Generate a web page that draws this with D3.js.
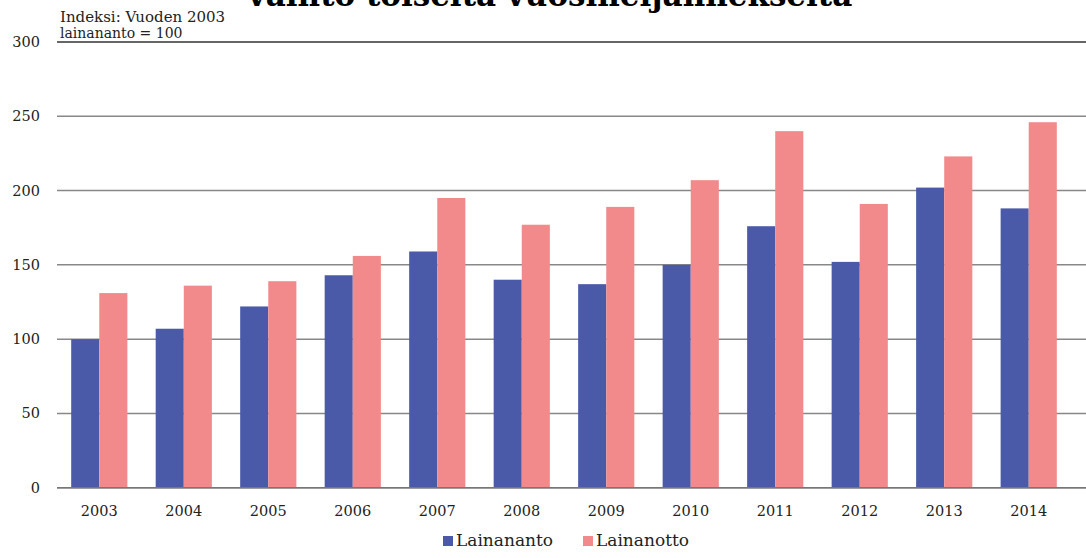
<!DOCTYPE html>
<html>
<head>
<meta charset="utf-8">
<script src="https://cdn.jsdelivr.net/npm/d3@7"></script>
<style>
  body { margin: 0; background: #fff; }
  text { font-family: "DejaVu Serif", "Liberation Serif", serif; }
</style>
</head>
<body>
<div id="chart"></div>
<script>
// Data
const years = ['2003', '2004', '2005', '2006', '2007', '2008', '2009', '2010', '2011', '2012', '2013', '2014'];
const lainananto = [100, 107, 122, 143, 159, 140, 137, 150, 176, 152, 202, 188];
const lainanotto = [131, 136, 139, 156, 195, 177, 189, 207, 240, 191, 223, 246];
const seriesNames = ['Lainananto', 'Lainanotto'];
const yTicks = [0, 50, 100, 150, 200, 250, 300];

const colors = { Lainananto: '#4a5aa9', Lainanotto: '#f28a8b' };

const W = 1086, H = 558;
const margin = { top: 42, right: 15, bottom: 70, left: 57 };
const width = W - margin.left - margin.right;
const height = 487.7 - margin.top;

const svg = d3.select('#chart')
    .append('svg')
    .attr('width', W)
    .attr('height', H);

// title, cut off at the top like in the source
svg.append('text')
    .attr('x', 550)
    .attr('y', 6)
    .attr('text-anchor', 'middle')
    .style('font-size', '31px')
    .style('font-weight', 'bold')
    .text('vaihto toiselta vuosineljännekseltä');

const g = svg.append('g')
    .attr('transform', `translate(${margin.left},${margin.top})`);

// scales
const x = d3.scaleBand()
    .domain(years)
    .range([0, width])
    .paddingInner(0.335)
    .paddingOuter(0.168);

const x1 = d3.scaleBand()
    .domain(seriesNames)
    .range([0, x.bandwidth()]);

const y = d3.scaleLinear()
    .domain([0, 300])
    .range([height, 0]);

// gridlines (run to the right edge of the picture)
g.append('g')
    .selectAll('line')
    .data(yTicks)
    .enter()
    .append('line')
    .attr('x1', 0)
    .attr('x2', W - margin.left)
    .attr('y1', d => y(d))
    .attr('y2', d => y(d))
    .attr('stroke', d => d === 300 ? '#333' : '#888')
    .attr('stroke-width', 1.5);

// y labels
g.append('g')
    .selectAll('text')
    .data(yTicks)
    .enter()
    .append('text')
    .attr('x', -17)
    .attr('y', d => y(d) + 5)
    .attr('text-anchor', 'end')
    .style('font-size', '14.5px')
    .style('fill', '#222')
    .text(d => d);

// bars
const groups = g.selectAll('.year')
    .data(years)
    .enter()
    .append('g')
    .attr('transform', d => `translate(${x(d)},0)`);

groups.selectAll('rect')
    .data((d, i) => [
        { key: 'Lainananto', value: lainananto[i] },
        { key: 'Lainanotto', value: lainanotto[i] }
    ])
    .enter()
    .append('rect')
    .attr('x', d => x1(d.key))
    .attr('y', d => y(d.value))
    .attr('width', x1.bandwidth())
    .attr('height', d => height - y(d.value))
    .attr('fill', d => colors[d.key]);

// baseline on top of the bars
g.append('line')
    .attr('x1', 0)
    .attr('x2', W - margin.left)
    .attr('y1', y(0))
    .attr('y2', y(0))
    .attr('stroke', '#777')
    .attr('stroke-width', 1.5);

// x labels
g.append('g')
    .selectAll('text')
    .data(years)
    .enter()
    .append('text')
    .attr('x', d => x(d) + x.bandwidth() / 2)
    .attr('y', height + 28)
    .attr('text-anchor', 'middle')
    .style('font-size', '14.5px')
    .style('fill', '#222')
    .text(d => d);

// index note
svg.append('text')
    .attr('x', 60)
    .attr('y', 22)
    .style('font-size', '15px')
    .style('fill', '#222')
    .text('Indeksi: Vuoden 2003');
svg.append('text')
    .attr('x', 60)
    .attr('y', 38)
    .style('font-size', '14px')
    .style('fill', '#222')
    .text('lainananto = 100');

// legend
const legend = svg.append('g')
    .attr('transform', 'translate(443,545)');
const legendX = [0, 140];
seriesNames.forEach((name, i) => {
    legend.append('rect')
        .attr('x', legendX[i])
        .attr('y', -9)
        .attr('width', 10)
        .attr('height', 10)
        .attr('fill', colors[name]);
    legend.append('text')
        .attr('x', legendX[i] + 13)
        .attr('y', 1)
        .style('font-size', '17px')
        .style('fill', '#222')
        .text(name);
});
</script>
</body>
</html>
